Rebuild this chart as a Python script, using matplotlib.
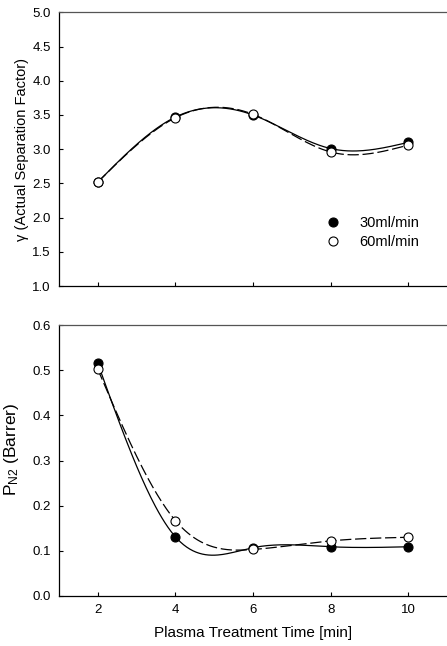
"""Factor de separación y permeancia de N2 frente al tiempo de tratamiento
con plasma, para dos caudales (30 y 60 ml/min)."""

import matplotlib
matplotlib.use("Agg")
import matplotlib.pyplot as plt
import numpy as np

plt.rcParams["font.family"] = ["Liberation Sans", "DejaVu Sans"]
plt.rcParams["mathtext.fontset"] = "custom"
plt.rcParams["mathtext.rm"] = "Liberation Sans"
plt.rcParams["mathtext.it"] = "Liberation Sans"

# --- Datos --------------------------------------------------------------------
tiempo = [2, 4, 6, 8, 10]

gamma_30 = [2.52, 3.47, 3.50, 3.01, 3.10]
gamma_60 = [2.52, 3.46, 3.51, 2.96, 3.06]

pn2_30 = [0.515, 0.131, 0.107, 0.109, 0.109]
pn2_60 = [0.502, 0.167, 0.103, 0.122, 0.130]

etiquetas = ["30ml/min", "60ml/min"]


def spline_natural(x, y, n=200):
    """Spline cúbico natural a través de los puntos (como la curva del original)."""
    x = np.asarray(x, float)
    y = np.asarray(y, float)
    h = np.diff(x)
    k = len(x)
    A = np.zeros((k, k))
    b = np.zeros(k)
    A[0, 0] = A[-1, -1] = 1.0
    for i in range(1, k - 1):
        A[i, i - 1] = h[i - 1]
        A[i, i] = 2 * (h[i - 1] + h[i])
        A[i, i + 1] = h[i]
        b[i] = 6 * ((y[i + 1] - y[i]) / h[i] - (y[i] - y[i - 1]) / h[i - 1])
    M = np.linalg.solve(A, b)
    xs = np.linspace(x[0], x[-1], n)
    idx = np.clip(np.searchsorted(x, xs) - 1, 0, k - 2)
    x0, x1 = x[idx], x[idx + 1]
    hh = x1 - x0
    ys = (M[idx] * (x1 - xs) ** 3 / (6 * hh) + M[idx + 1] * (xs - x0) ** 3 / (6 * hh)
          + (y[idx] / hh - M[idx] * hh / 6) * (x1 - xs)
          + (y[idx + 1] / hh - M[idx + 1] * hh / 6) * (xs - x0))
    return xs, ys


fig = plt.figure(figsize=(4.47, 6.46), dpi=100)
ax1 = fig.add_axes([0.132, 0.557, 0.868, 0.424])
ax2 = fig.add_axes([0.132, 0.0774, 0.868, 0.4195])

for ax, s30, s60 in ((ax1, gamma_30, gamma_60), (ax2, pn2_30, pn2_60)):
    xs, ys = spline_natural(tiempo, s30)
    ax.plot(xs, ys, color="black", lw=0.9, zorder=2)
    xs, ys = spline_natural(tiempo, s60)
    ax.plot(xs, ys, color="black", lw=0.9, dashes=(9, 3), zorder=2)
    ax.plot(tiempo, s30, "o", ms=6.5, mfc="black", mec="black", mew=0.8,
            label=etiquetas[0], zorder=3)
    ax.plot(tiempo, s60, "o", ms=6.5, mfc="white", mec="black", mew=0.8,
            label=etiquetas[1], zorder=4)

    ax.set_xlim(1, 11)
    ax.set_xticks(tiempo)
    ax.tick_params(direction="in", length=3, width=0.8, labelsize=9.5, pad=6)
    ax.spines["right"].set_visible(False)
    for lado in ("left", "bottom", "top"):
        ax.spines[lado].set_linewidth(0.9)
    ax.spines["top"].set_color("#555555")

ax1.set_ylim(1.0, 5.0)
ax1.set_yticks(np.arange(1.0, 5.01, 0.5))
ax1.yaxis.set_major_formatter(matplotlib.ticker.FormatStrFormatter("%.1f"))
ax1.tick_params(axis="x", labelbottom=False)
ax1.set_ylabel("γ (Actual Separation Factor)", fontsize=10.5)
ax1.yaxis.set_label_coords(-0.078, 0.50)
ax1.legend(loc="center left", bbox_to_anchor=(0.688, 0.197), frameon=False,
           fontsize=10.5, handlelength=1.0, handletextpad=1.3,
           borderaxespad=0, borderpad=0, labelspacing=0.35)

ax2.set_ylim(0.0, 0.6)
ax2.set_yticks(np.arange(0.0, 0.61, 0.1))
ax2.yaxis.set_major_formatter(matplotlib.ticker.FormatStrFormatter("%.1f"))
ax2.set_ylabel("P$_{\\mathrm{N2}}$ (Barrer)", fontsize=12.5)
ax2.yaxis.set_label_coords(-0.097, 0.54)
ax2.set_xlabel("Plasma Treatment Time [min]", fontsize=11, labelpad=7)

fig.savefig("out.png", dpi=100)
